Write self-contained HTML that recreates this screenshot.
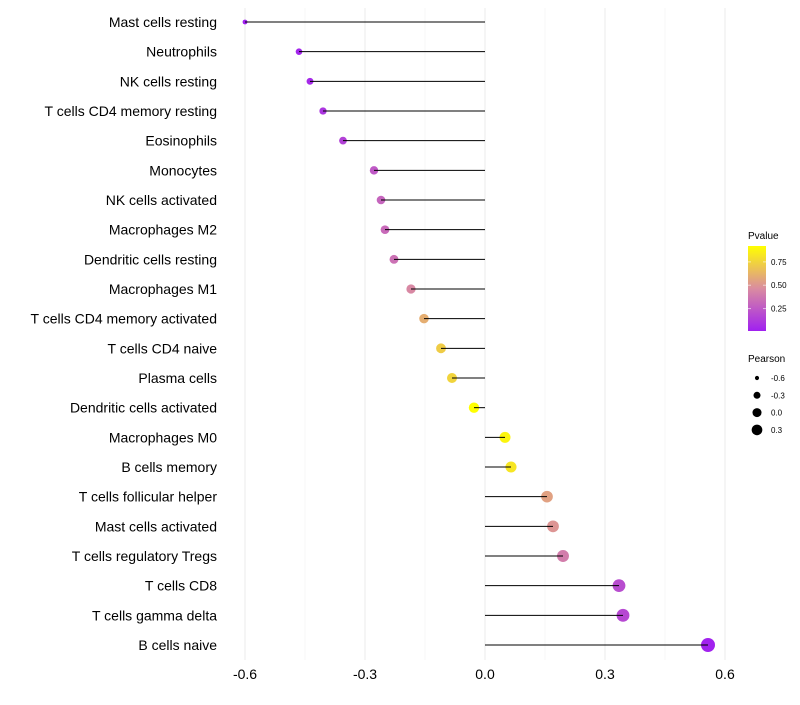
<!DOCTYPE html>
<html><head><meta charset="utf-8"><style>
body{margin:0;background:#fff;font-family:"Liberation Sans",sans-serif}
svg text{font-family:"Liberation Sans",sans-serif}
</style></head><body>
<svg id="c" width="800" height="700"></svg>
<script>
const categories=["Mast cells resting","Neutrophils","NK cells resting","T cells CD4 memory resting","Eosinophils","Monocytes","NK cells activated","Macrophages M2","Dendritic cells resting","Macrophages M1","T cells CD4 memory activated","T cells CD4 naive","Plasma cells","Dendritic cells activated","Macrophages M0","B cells memory","T cells follicular helper","Mast cells activated","T cells regulatory  Tregs","T cells CD8","T cells gamma delta","B cells naive"];
const pearson=[-0.60,-0.465,-0.4375,-0.405,-0.355,-0.2775,-0.26,-0.25,-0.2275,-0.185,-0.1525,-0.11,-0.0825,-0.0275,0.05,0.065,0.155,0.17,0.195,0.335,0.345,0.5575];
const pvalue=[0.01,0.03,0.05,0.1,0.15,0.25,0.3,0.32,0.35,0.45,0.6,0.72,0.75,0.92,0.88,0.82,0.55,0.5,0.4,0.2,0.18,0.02];
const xTicks=[-0.6,-0.3,0.0,0.3,0.6];
const xTickLabels=["-0.6","-0.3","0.0","0.3","0.6"];
const pTicks=[0.25,0.5,0.75];
const pTickLabels=["0.25","0.50","0.75"];
const sizeKeys=[-0.6,-0.3,0.0,0.3];
const sizeKeyLabels=["-0.6","-0.3","0.0","0.3"];

const NS="http://www.w3.org/2000/svg";
const svg=document.getElementById('c');
const X=v=>485+v*400;
const Y=i=>22+i*(623/21);
const R=v=>Math.sqrt(5.9+Math.max(0,(v+0.6)/1.1575)*43.1);
const stops=[[0,[160,32,240]],[0.5,[218,140,160]],[1,[255,255,0]]];
const pmin=0.01,pmax=0.92;
function col(p){let t=(p-pmin)/(pmax-pmin);t=Math.max(0,Math.min(1,t));
 let a=stops[0],b=stops[1];if(t>0.5){a=stops[1];b=stops[2];}
 const f=(t-a[0])/(b[0]-a[0]);const c=a[1].map((v,k)=>Math.round(v+(b[1][k]-v)*f));return `rgb(${c})`;}
function el(tag,attrs,parent){const e=document.createElementNS(NS,tag);for(const k in attrs)e.setAttribute(k,attrs[k]);(parent||svg).appendChild(e);return e;}

const minor=[-0.45,-0.15,0.15,0.45];
minor.forEach(v=>{const g=el('line',{x1:X(v),x2:X(v),y1:8,y2:660,stroke:'#f2f2f2','stroke-width':0.6});

});
xTicks.forEach((v,i)=>{const g=el('line',{x1:X(v),x2:X(v),y1:8,y2:660,stroke:'#ebebeb','stroke-width':1});


const t=el('text',{x:X(v),y:679,'text-anchor':'middle','font-size':14,fill:'#000'});t.textContent=xTickLabels[i];

});
categories.forEach((c,i)=>{const y=Y(i);
 const t=el('text',{x:217,y:y+5,'text-anchor':'end','font-size':14,fill:'#000'});t.textContent=c;
 
 
 const d=el('circle',{cx:X(pearson[i]),cy:y,r:R(pearson[i]),fill:col(pvalue[i])});
 
 
 const l=el('line',{x1:X(0),x2:X(pearson[i]),y1:y,y2:y,stroke:'#000','stroke-width':1});
 
 
});
const lt=el('text',{x:748,y:239,'font-size':10,fill:'#000'});lt.textContent='Pvalue';


const defs=el('defs',{});const lg=el('linearGradient',{id:'pg',x1:0,y1:1,x2:0,y2:0},defs);
for(let k=0;k<=10;k++){el('stop',{offset:k/10,'stop-color':col(pmin+(pmax-pmin)*k/10)},lg);}
const cbTop=246,cbBot=331;
const bar=el('rect',{x:748,y:cbTop,width:18,height:cbBot-cbTop,fill:'url(#pg)'});


const PY=p=>cbBot-(p-pmin)/(pmax-pmin)*(cbBot-cbTop);
pTicks.forEach((p,i)=>{el('line',{x1:748,x2:751,y1:PY(p),y2:PY(p),stroke:'#fff','stroke-opacity':0.6});el('line',{x1:763,x2:766,y1:PY(p),y2:PY(p),stroke:'#fff','stroke-opacity':0.6});
 const t=el('text',{x:771,y:PY(p)+3,'font-size':8,fill:'#000'});t.textContent=pTickLabels[i];
 
 });
const st=el('text',{x:748,y:362,'font-size':10,fill:'#000'});st.textContent='Pearson';


sizeKeys.forEach((v,i)=>{const y=378+i*17.3;
 const c=el('circle',{cx:757,cy:y,r:R(v)*0.85,fill:'#000'});
 
 
 const t=el('text',{x:771,y:y+3,'font-size':8,fill:'#000'});t.textContent=sizeKeyLabels[i];
 
 });
</script>
</body></html>
